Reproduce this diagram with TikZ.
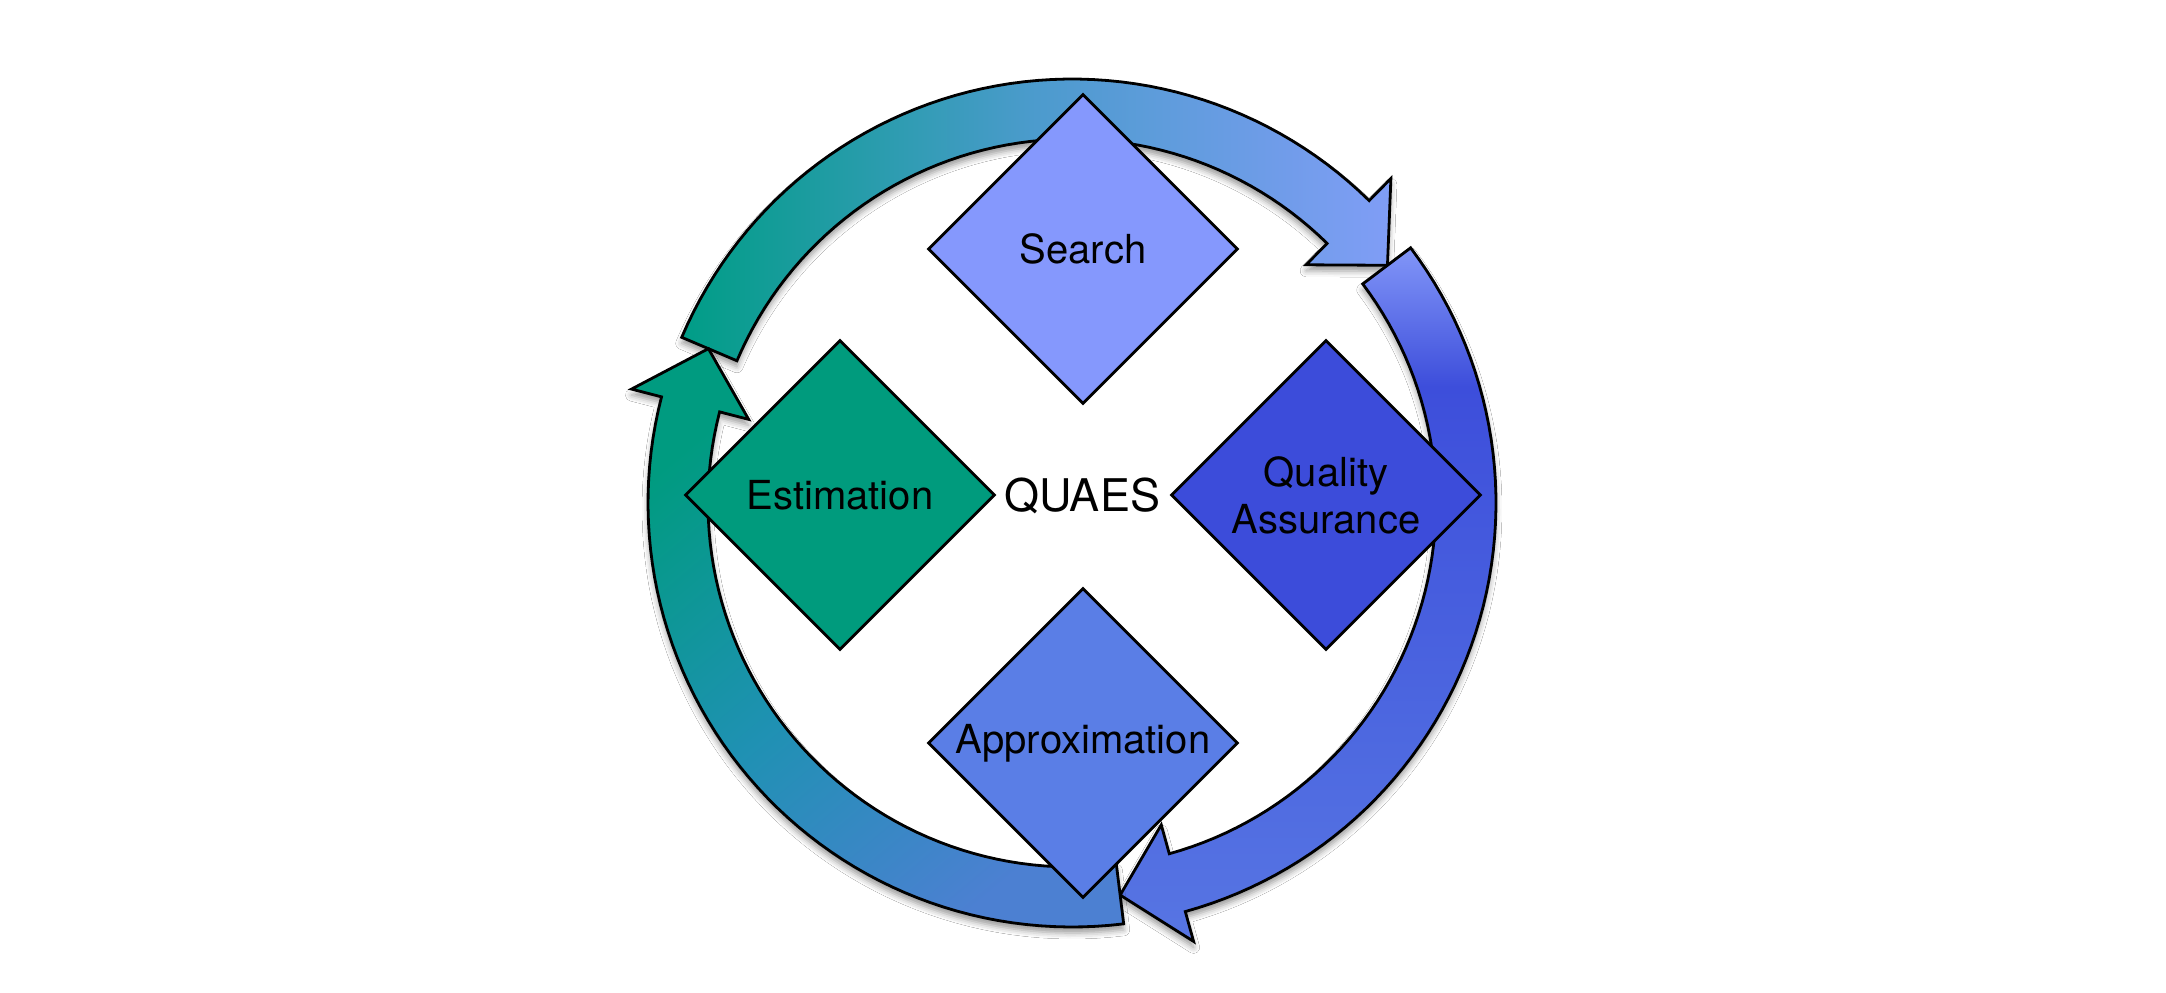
\documentclass[tikz,border=0pt]{standalone}
\usepackage{fontspec}
\setmainfont{TeX Gyre Heros}
\usetikzlibrary{shapes.geometric,shadows.blur}
\definecolor{searchc}{HTML}{8598FD}
\definecolor{estc}{HTML}{009B7D}
\definecolor{qac}{HTML}{3C4CDA}
\definecolor{apxc}{HTML}{5A7EE6}
\definecolor{a1a}{HTML}{009D86}
\definecolor{a1b}{HTML}{4C9BCD}
\definecolor{a1c}{HTML}{809DF6}
\definecolor{a2a}{HTML}{8296F8}
\definecolor{a2b}{HTML}{3D4EDB}
\definecolor{a2c}{HTML}{4D68E0}
\definecolor{a2d}{HTML}{5775E3}
\definecolor{a3a}{HTML}{009B80}
\definecolor{a3b}{HTML}{1F91B3}
\definecolor{a3c}{HTML}{4C80D2}
\pgfdeclareverticalshading{arrtwo}{100bp}{color(0bp)=(a2d); color(25bp)=(a2d); color(40bp)=(a2c); color(65bp)=(a2b); color(75bp)=(a2a); color(100bp)=(a2a)}
\begin{document}
\begin{tikzpicture}[x=1pt,y=-1pt,
  ring/.style={draw=black, line width=2.8pt, line join=miter,
    blur shadow={shadow xshift=0pt, shadow yshift=-6pt, shadow blur radius=6pt, shadow opacity=40}},
  box/.style={shape=diamond, aspect=1, draw=black, line width=2.8pt, line join=miter,
    minimum width=310pt, minimum height=310pt, inner sep=0pt,
    font=\fontsize{40}{47}\selectfont, align=center},
  title/.style={font=\fontsize{45}{54}\selectfont}]
\useasboundingbox (0,0) rectangle (2166,993);
\fill[white] (0,0) rectangle (2166,993);
\begin{scope}[shift={(1072,503)}]
  % top arrow: teal -> light blue
  \path[ring, left color=a1a, right color=a1c, middle color=a1b]
    plot[domain=-157:-45.5, samples=60] (\x:424) -- (-45.5:455) -- (-37:395)
    -- (-45.5:334) -- (-45.5:364) -- plot[domain=-45.5:-157, samples=60] (\x:364) -- cycle;
  % right arrow
  \path[ring, shading=arrtwo]
    plot[domain=-37:74.5, samples=60] (\x:424) -- (74.5:455) -- (83:395)
    -- (74.5:334) -- (74.5:364) -- plot[domain=74.5:-37, samples=60] (\x:364) -- cycle;
  % left arrow
  \path[ring, top color=a3a, bottom color=a3c, middle color=a3b, shading angle=40]
    plot[domain=83:194.5, samples=60] (\x:424) -- (194.5:455) -- (203:395)
    -- (194.5:334) -- (194.5:364) -- plot[domain=194.5:83, samples=60] (\x:364) -- cycle;
\end{scope}
\node[box, fill=searchc] (search) at (1083,249) {Search};
\node[box, fill=estc] (est) at (840,495) {Estimation};
\node[box, fill=qac] (qa) at (1326,495) {Quality\\Assurance};
\node[box, fill=apxc] (apx) at (1083,743) {Approximation};
\node[title] (quaes) at (1082,496) {QUAES};
\end{tikzpicture}
\end{document}
